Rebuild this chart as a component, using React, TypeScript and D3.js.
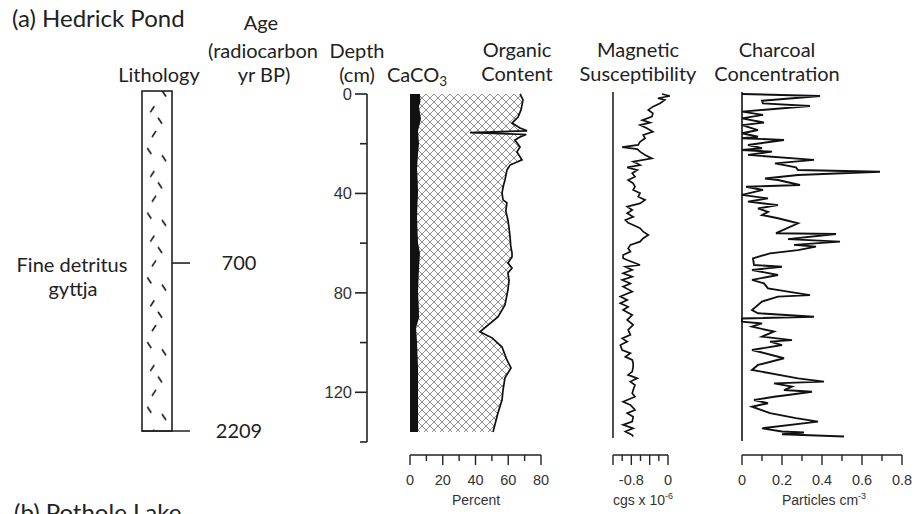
import React from "react";
import * as d3 from "d3";

const W = 923;
const H = 514;

// ---- data (depth cm, value) ----
const organicContent: [number, number][] = [
  [0, 67.2], [2.4, 69.0], [6.4, 67.8], [9.3, 66.0], [11.7, 62.3], [13.7, 67.2], [14.8, 71.5],
  [15.5, 36.6], [16.3, 71], [17.3, 67.2], [18.5, 64.1], [21.3, 67.2], [23.3, 65.3], [26.5, 68.4],
  [28.6, 61.1], [30.6, 59.2], [34.6, 58.0], [37, 57], [39.8, 56.2], [42.6, 56.8], [43.8, 59.2],
  [47, 58.5], [50.7, 59.8], [54, 60.5], [57.5, 61.1], [61, 61.5], [64.0, 62.3], [65.6, 62.3],
  [68.0, 59.8], [70.0, 62.3], [72.0, 59.8], [75, 60.5], [78.8, 59.8], [84.9, 58.0], [89.7, 53.7],
  [95.7, 42.7], [98.1, 50.1], [101.8, 56.2], [107.0, 59.2], [110.2, 61.7], [114.2, 58.0],
  [119.1, 56.8], [123.1, 56.2], [128.3, 53.7], [136.0, 50.7],
];

const caco3: [number, number][] = [
  [0, 6.1], [3, 6.4], [5, 5.5], [8, 6.2], [10, 6.7], [13, 5.6], [15, 4.9], [20, 5.5], [25, 4.8],
  [30, 4.3], [35, 4.7], [40, 4.9], [45, 4.5], [50, 4.3], [55, 4.6], [60, 4.9], [64, 6.1],
  [70, 5.5], [75, 5.2], [80, 4.9], [86, 5.4], [90, 5.5], [94, 3.7], [100, 4.3], [110, 4.9],
  [120, 4.9], [136, 4.9],
];

const magSusc: [number, number][] = [
  [0, -0.13], [0.8, 0.04], [1.7, -0.22], [2.4, -0.07], [3.7, -0.17], [5.1, -0.33], [6.4, -0.43],
  [7.8, -0.33], [9.1, -0.35], [10.5, -0.56], [11.5, -0.39], [12.5, -0.61], [13.8, -0.46],
  [15.2, -0.33], [16.5, -0.54], [17.8, -0.5], [19.2, -0.61], [20.5, -0.65], [21.4, -1.0],
  [22.2, -0.67], [23.2, -0.61], [24.5, -0.5], [25.9, -0.35], [27.2, -0.76], [28.6, -0.61],
  [29.5, -0.89], [30.6, -0.67], [31.9, -0.78], [33.3, -0.72], [34.6, -0.87], [35.9, -0.76],
  [37.3, -0.72], [38.6, -0.76], [39.9, -0.61], [41.3, -0.65], [42.6, -0.5], [44.0, -0.61],
  [45.3, -0.89], [46.7, -0.78], [48.0, -0.89], [49.4, -0.76], [50.7, -0.93], [51.8, -0.87],
  [52.7, -0.76], [54.0, -0.61], [55.4, -0.54], [56.7, -0.43], [58.0, -0.54], [59.4, -0.61],
  [60.7, -0.82], [62.1, -0.87], [63.4, -0.82], [64.8, -0.98], [66.1, -0.98], [66.8, -0.89],
  [68.8, -0.61], [69.5, -0.93], [70.8, -0.78], [72.1, -0.98], [73.5, -0.78], [74.8, -1.0],
  [76.2, -0.82], [77.5, -0.98], [79.5, -0.78], [81.5, -1.04], [82.9, -0.89], [84.2, -1.04],
  [85.6, -0.87], [86.9, -0.98], [88.9, -0.78], [90.9, -0.89], [92.9, -0.76], [94.9, -0.87],
  [96.9, -0.82], [98.3, -1.0], [99.6, -0.89], [101.0, -1.04], [103.0, -1.0], [104.3, -0.82],
  [105.7, -0.93], [107.0, -0.78], [108.3, -0.76], [109.7, -0.76], [111.7, -0.78], [113.0, -0.87],
  [114.4, -0.67], [115.7, -0.82], [117.1, -0.72], [119.1, -0.76], [120.4, -0.78], [121.8, -0.72],
  [123.8, -0.98], [125.1, -0.82], [127.1, -0.72], [128.4, -0.89], [129.8, -0.76], [131.8, -0.78],
  [133.1, -0.98], [134.5, -0.76], [135.8, -0.93], [137.2, -0.78], [137.8, -0.76],
];

const charcoal: [number, number][] = [
  [0, 0], [0.8, 0.39], [2.7, 0.1], [3.8, 0.105], [4.8, 0.34], [7.1, 0], [8.4, 0.105], [9.8, 0],
  [11.5, 0.11], [12.5, 0], [14.5, 0.08], [15.8, 0], [17.2, 0.08], [17.8, 0], [18.5, 0.21],
  [20.5, 0.03], [21.8, 0.1], [22.5, 0], [23.2, 0.15], [24.5, 0.03], [26.5, 0.36], [27.9, 0.165],
  [29.5, 0.27], [30.6, 0.28], [31.3, 0.69], [32.6, 0.28], [34, 0.115], [34.6, 0.18], [36.6, 0.29],
  [37.3, 0.02], [38.6, 0.105], [40.6, 0], [42, 0.13], [43.3, 0.03], [44.7, 0.18], [46, 0.08],
  [47.4, 0.13], [48.7, 0.1], [50, 0.18], [52, 0.28], [56, 0.17], [56.3, 0.47], [58.4, 0.23],
  [59.4, 0.49], [60.7, 0.26], [61.4, 0.37], [62.8, 0.28], [64.1, 0.14], [66.1, 0.055],
  [68.8, 0.06], [69.5, 0.2], [70.8, 0.05], [72.8, 0.18], [74.8, 0.05], [76.2, 0.11], [78.2, 0.13],
  [79.5, 0.23], [80.9, 0.34], [81.5, 0.18], [83.5, 0.1], [86.9, 0.05], [88.2, 0.08], [89.6, 0.36],
  [90.3, 0], [91.6, 0], [92.3, 0.1], [93.6, 0.05], [95.6, 0.16], [97.6, 0.1], [99.0, 0.25],
  [99.6, 0.14], [101, 0.2], [103, 0.05], [106.3, 0.21], [109, 0.08], [111, 0.05], [114.4, 0.28],
  [115.7, 0.41], [116.4, 0.16], [117.7, 0.25], [119.1, 0.21], [119.8, 0.35], [121.1, 0.23],
  [121.8, 0.16], [123.1, 0.06], [124.4, 0.13], [125.8, 0.05], [128.4, 0.14], [130.4, 0.27],
  [131.8, 0.38], [134.5, 0.1], [135.8, 0.2], [136.2, 0.31], [136.9, 0.2], [137.8, 0.51],
];

const ageLabels = ["700", "2209"];
const ageDepths = [68, 135.6];
const depthTicks = [0, 20, 40, 60, 80, 100, 120, 140];
const depthLabels = [0, 40, 80, 120];
const percentTicks = [0, 10, 20, 30, 40, 50, 60, 70, 80];
const percentLabels = [0, 20, 40, 60, 80];
const magTicks = [-1.2, -1.0, -0.8, -0.6, -0.4, -0.2, 0];
const magMajor = [-1.2, -0.8, -0.4, 0];
const magLabels = [-0.8, 0];
const charTicks = [0, 0.1, 0.2, 0.3, 0.4, 0.5, 0.6, 0.7, 0.8];
const charLabels = [0, 0.2, 0.4, 0.6, 0.8];

// lithology dash motif (offsets within one repeat)
const dashMotif: [number, number, number][] = [
  [10.3, 9.3, 1], [18, 20.7, -1], [12, 34, 1], [7.3, 51, -1], [22, 58.3, -1],
];

const HEAD = "Lato, 'Open Sans', sans-serif";
const AX = "'Liberation Sans', Arial, sans-serif";

export default function App() {
  const y = d3.scaleLinear().domain([0, 140]).range([94, 442]);
  const xPct = d3.scaleLinear().domain([0, 80]).range([410, 541]);
  const xMag = d3.scaleLinear().domain([-1.2, 0]).range([613, 668]);
  const xChar = d3.scaleLinear().domain([0, 0.8]).range([742, 902]);

  const orgArea = d3.area<[number, number]>()
    .y((d) => y(d[0])).x0(xPct(0)).x1((d) => xPct(d[1]));
  const orgLine = d3.line<[number, number]>().x((d) => xPct(d[1])).y((d) => y(d[0]));
  const caArea = d3.area<[number, number]>()
    .y((d) => y(d[0])).x0(xPct(0)).x1((d) => xPct(d[1]));
  const magLine = d3.line<[number, number]>().x((d) => xMag(d[1])).y((d) => y(d[0]));
  const charLine = d3.line<[number, number]>().x((d) => xChar(d[1])).y((d) => y(d[0]));

  const axisY = 455;
  const litX0 = 142, litX1 = 172;
  const litTop = y(-1.2), litBot = y(ageDepths[1]);

  const fmt = (v: number) => (Math.abs(v) < 1e-9 ? "0" : String(+v.toFixed(1)));

  const bottomAxis = (
    scale: d3.ScaleLinear<number, number>,
    ticks: number[],
    major: number[],
    labels: number[],
    key: string
  ) => (
    <g key={key}>
      <line x1={scale(ticks[0])} x2={scale(ticks[ticks.length - 1])} y1={axisY} y2={axisY}
        stroke="#222" strokeWidth={1.6} />
      {ticks.map((t) => {
        const isMajor = major.some((m) => Math.abs(m - t) < 1e-6);
        return (
          <line key={t} x1={scale(t)} x2={scale(t)} y1={axisY} y2={axisY + (isMajor ? 10 : 6)}
            stroke="#222" strokeWidth={1.4} />
        );
      })}
      {labels.map((t) => (
        <text key={"l" + t} x={scale(t)} y={485} textAnchor="middle" fontFamily={AX}
          fontSize={14.5} fill="#333">{fmt(t)}</text>
      ))}
    </g>
  );

  return (
    <svg width={W} height={H} style={{ position: "absolute", left: 0, top: 0, background: "#fff" }}>
      <defs>
        <pattern id="hatch" patternUnits="userSpaceOnUse" width={8} height={8} x={410} y={94}>
          <path d="M0,0 L8,8 M8,0 L0,8" stroke="#8f8f8f" strokeWidth={1} fill="none" />
        </pattern>
        <pattern id="litho" patternUnits="userSpaceOnUse" width={30} height={64.7} x={litX0} y={100}>
          {dashMotif.map(([cx, cy, s], i) => (
            <line key={i} x1={cx - 2} y1={cy + 3 * s} x2={cx + 2} y2={cy - 3 * s}
              stroke="#222" strokeWidth={1.7} />
          ))}
        </pattern>
      </defs>

      {/* titles */}
      <text x={12} y={27} fontFamily={HEAD} fontSize={24} fill="#222">(a) Hedrick Pond</text>
      <text x={14} y={521} fontFamily={HEAD} fontSize={24} fill="#222">(b) Pothole Lake</text>

      <g fontFamily={HEAD} fontSize={20} fill="#222" textAnchor="middle">
        <text x={159} y={82}>Lithology</text>
        <text x={261} y={30}>Age</text>
        <text x={263} y={58}>(radiocarbon</text>
        <text x={264} y={82}>yr BP)</text>
        <text x={357} y={58}>Depth</text>
        <text x={357} y={82}>(cm)</text>
        <text x={417} y={82}>CaCO<tspan fontSize={13.5} dy={4}>3</tspan></text>
        <text x={517} y={57}>Organic</text>
        <text x={517} y={81}>Content</text>
        <text x={638} y={57}>Magnetic</text>
        <text x={638} y={81}>Susceptibility</text>
        <text x={777} y={57}>Charcoal</text>
        <text x={777} y={81}>Concentration</text>
      </g>

      {/* lithology */}
      <rect x={litX0} y={litTop} width={litX1 - litX0} height={litBot - litTop}
        fill="url(#litho)" stroke="#222" strokeWidth={1.6} />
      {ageDepths.map((d, i) => (
        <g key={ageLabels[i]}>
          <line x1={i === ageDepths.length - 1 ? litX0 : litX1} x2={190} y1={y(d)} y2={y(d)}
            stroke="#222" strokeWidth={1.6} />
          <text x={239} y={y(d) + 7} textAnchor="middle" fontFamily={HEAD} fontSize={20} fill="#222">
            {ageLabels[i]}
          </text>
        </g>
      ))}
      <g fontFamily={HEAD} fontSize={20} fill="#222" textAnchor="middle">
        <text x={72} y={272}>Fine detritus</text>
        <text x={73} y={296}>gyttja</text>
      </g>

      {/* depth axis */}
      <line x1={367} x2={367} y1={y(0)} y2={y(140)} stroke="#222" strokeWidth={1.6} />
      {depthTicks.map((t) => {
        const major = depthLabels.includes(t);
        return (
          <line key={t} x1={367 - (major ? 12 : 7)} x2={367} y1={y(t)} y2={y(t)}
            stroke="#222" strokeWidth={1.6} />
        );
      })}
      {depthLabels.map((t) => (
        <text key={t} x={352} y={y(t) + 6} textAnchor="end" fontFamily={AX} fontSize={16.5} fill="#333">
          {t}
        </text>
      ))}

      {/* organic + CaCO3 */}
      <path d={orgArea(organicContent) || ""} fill="url(#hatch)" />
      <path d={orgLine(organicContent) || ""} fill="none" stroke="#111" strokeWidth={1.7} />
      <path d={caArea(caco3) || ""} fill="#111" />

      {/* magnetic susceptibility */}
      <line x1={xMag(-1.2)} x2={xMag(-1.2)} y1={92} y2={438} stroke="#222" strokeWidth={1.6} />
      <path d={magLine(magSusc) || ""} fill="none" stroke="#111" strokeWidth={1.7} />

      {/* charcoal */}
      <line x1={xChar(0)} x2={xChar(0)} y1={92} y2={441} stroke="#222" strokeWidth={1.7} />
      <path d={charLine(charcoal) || ""} fill="none" stroke="#111" strokeWidth={1.9} />

      {/* bottom axes */}
      {bottomAxis(xPct, percentTicks, percentLabels, percentLabels, "pct")}
      {bottomAxis(xMag, magTicks, magMajor, magLabels, "mag")}
      {bottomAxis(xChar, charTicks, charLabels, charLabels, "char")}

      <g fontFamily={AX} fontSize={14} fill="#333" textAnchor="middle">
        <text x={476} y={505}>Percent</text>
        <text x={643} y={505}>cgs x 10<tspan fontSize={9} dy={-6}>-6</tspan></text>
        <text x={824} y={505}>Particles cm<tspan fontSize={9} dy={-6}>-3</tspan></text>
      </g>
    </svg>
  );
}
